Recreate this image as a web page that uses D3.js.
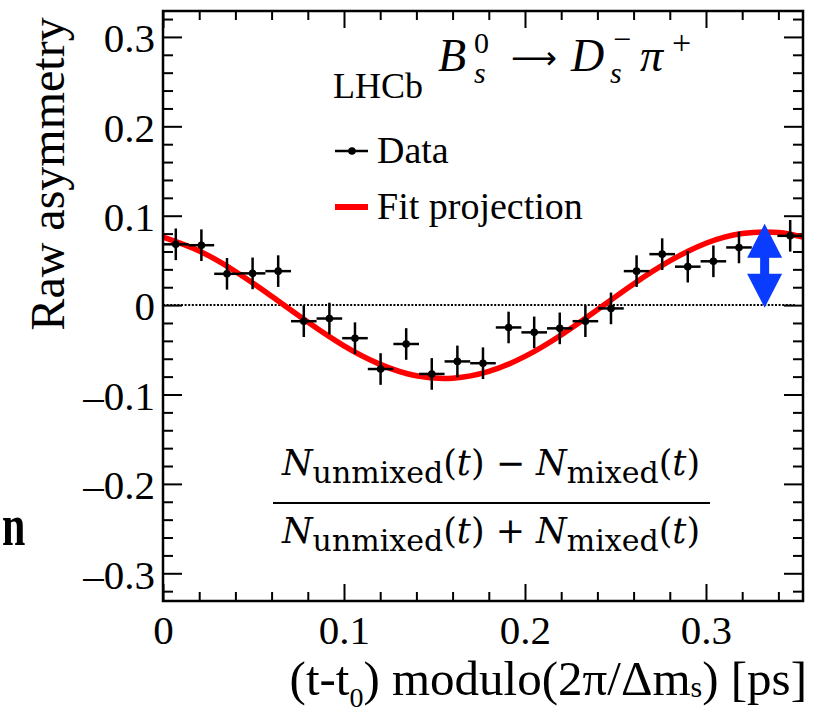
<!DOCTYPE html>
<html>
<head>
<meta charset="utf-8">
<script src="https://cdn.jsdelivr.net/npm/d3@7"></script>
<style>
  body { margin: 0; background: #fff; }
  svg { display: block; }
</style>
</head>
<body>
<svg width="832" height="713" font-family="Liberation Serif, Times New Roman, serif"></svg>
<script>
// bin centres of (t-t0) modulo(2pi/dms) [ps], 25 bins
const binCenters = [0.00707, 0.02121, 0.03536, 0.0495, 0.06364, 0.07779, 0.09193, 0.10607,
  0.12022, 0.13436, 0.1485, 0.16265, 0.17679, 0.19094, 0.20508, 0.21922, 0.23337,
  0.24751, 0.26165, 0.2758, 0.28994, 0.30409, 0.31823, 0.33237, 0.34652];
const binHalf = 0.00707;
// raw asymmetry
const asym = [0.068, 0.067, 0.035, 0.0355, 0.038, -0.018, -0.015, -0.037, -0.0715, -0.0435,
  -0.077, -0.063, -0.065, -0.025, -0.0305, -0.026, -0.018, -0.0037, 0.038, 0.057,
  0.043, 0.049, 0.0645, 0.055, 0.0775];
const asymErr = [0.0177, 0.0177, 0.0177, 0.0177, 0.0177, 0.0177, 0.0177, 0.0177, 0.0177, 0.0177,
  0.0177, 0.0177, 0.0177, 0.0177, 0.0177, 0.0177, 0.0177, 0.0177, 0.0177, 0.0177,
  0.0177, 0.0177, 0.0177, 0.0177, 0.0177];

// fit projection
const fitT = [0, 0.02, 0.04, 0.06, 0.08, 0.10, 0.12, 0.14, 0.16, 0.18, 0.20, 0.22, 0.24,
  0.26, 0.28, 0.30, 0.32, 0.34, 0.3536];
const fitA = [0.0761, 0.0606, 0.0376, 0.0099, -0.019, -0.0456, -0.0663, -0.0791, -0.0817,
  -0.0742, -0.0574, -0.0334, -0.0052, 0.0236, 0.0494, 0.0692, 0.0801, 0.0812, 0.076];

const xMajor = [0, 0.1, 0.2, 0.3];
const xMinor = [0.02, 0.04, 0.06, 0.08, 0.12, 0.14, 0.16, 0.18, 0.22, 0.24, 0.26, 0.28, 0.32, 0.34];
const yMajor = [-0.3, -0.2, -0.1, 0, 0.1, 0.2, 0.3];
const yMinor = [-0.32, -0.28, -0.26, -0.24, -0.22, -0.18, -0.16, -0.14, -0.12, -0.08, -0.06,
  -0.04, -0.02, 0.02, 0.04, 0.06, 0.08, 0.12, 0.14, 0.16, 0.18, 0.22, 0.24, 0.26, 0.28, 0.32];

// amplitude arrow
const arrowX = 0.3324;
const arrowY = [-0.003, 0.091];

const svg = d3.select("svg");
const padL = 163, padR = 803, padT = 11, padB = 601;
const serif = "Liberation Serif, Times New Roman, serif";

const x = d3.scaleLinear().domain([0, 0.3536]).range([padL, padR]);
const y = d3.scaleLinear().domain([-0.331, 0.329]).range([padB, padT]);

svg.append("clipPath").attr("id", "frame")
  .append("rect").attr("x", padL).attr("y", padT)
  .attr("width", padR - padL).attr("height", padB - padT);

// ticks on all four sides, pointing inwards
const fmtY = d => d === 0 ? "0" : (d < 0 ? "\u2013" : "") + Math.abs(d).toFixed(1);
const fmtX = d => d === 0 ? "0" : d.toFixed(1);

function axisGroup(axis, tx, ty) {
  let g = svg.append("g").attr("transform", `translate(${tx},${ty})`).call(axis);
  g.select(".domain").remove();
  g.selectAll("line").attr("stroke", "#000").attr("stroke-width", 2);
  return g;
}

let gx = axisGroup(d3.axisBottom(x).tickValues(xMajor).tickSize(-17).tickPadding(14).tickFormat(fmtX), 0, padB);
gx.attr("font-family", serif).attr("font-size", 41);
gx.selectAll("text").attr("fill", "#000");
axisGroup(d3.axisBottom(x).tickValues(xMinor).tickSize(-9).tickFormat(""), 0, padB);
axisGroup(d3.axisTop(x).tickValues(xMajor).tickSize(-17).tickFormat(""), 0, padT);
axisGroup(d3.axisTop(x).tickValues(xMinor).tickSize(-9).tickFormat(""), 0, padT);

let gy = axisGroup(d3.axisLeft(y).tickValues(yMajor).tickSize(-19).tickPadding(8).tickFormat(fmtY), padL, 0);
gy.attr("font-family", serif).attr("font-size", 41);
gy.selectAll("text").attr("fill", "#000").attr("dy", "0.36em");
axisGroup(d3.axisLeft(y).tickValues(yMinor).tickSize(-10).tickFormat(""), padL, 0);
axisGroup(d3.axisRight(y).tickValues(yMajor).tickSize(-19).tickFormat(""), padR, 0);
axisGroup(d3.axisRight(y).tickValues(yMinor).tickSize(-10).tickFormat(""), padR, 0);

// zero line
svg.append("line")
  .attr("x1", x(0)).attr("x2", x(0.349))
  .attr("y1", y(0)).attr("y2", y(0))
  .attr("stroke", "#000").attr("stroke-width", 2)
  .attr("stroke-dasharray", "2,1.6");

// fit curve
const fitPts = fitT.map((t, i) => [t, fitA[i]]);
svg.append("path")
  .datum(fitPts)
  .attr("clip-path", "url(#frame)")
  .attr("fill", "none")
  .attr("stroke", "#ff0000")
  .attr("stroke-width", 5.5)
  .attr("d", d3.line().x(d => x(d[0])).y(d => y(d[1])).curve(d3.curveNatural));

// data points with error bars
const pts = binCenters.map((c, i) => ({c: c, v: asym[i], e: asymErr[i]}));
let pg = svg.append("g").selectAll("g").data(pts).enter().append("g");
pg.append("line")
  .attr("x1", d => x(d.c - binHalf)).attr("x2", d => x(d.c + binHalf))
  .attr("y1", d => y(d.v)).attr("y2", d => y(d.v))
  .attr("stroke", "#000").attr("stroke-width", 2.5);
pg.append("line")
  .attr("x1", d => x(d.c)).attr("x2", d => x(d.c))
  .attr("y1", d => y(d.v - d.e)).attr("y2", d => y(d.v + d.e))
  .attr("stroke", "#000").attr("stroke-width", 2.5);
pg.append("circle")
  .attr("cx", d => x(d.c)).attr("cy", d => y(d.v)).attr("r", 3.8)
  .attr("fill", "#000");

// double arrow
const ax = x(arrowX), aLo = y(arrowY[0]), aHi = y(arrowY[1]);
const hw = 17.5, hl = 34, sw = 4.5;
svg.append("path")
  .attr("fill", "#0a3cff")
  .attr("d", `M${ax},${aHi} L${ax + hw},${aHi + hl} L${ax + sw},${aHi + hl} L${ax + sw},${aLo - hl}
    L${ax + hw},${aLo - hl} L${ax},${aLo} L${ax - hw},${aLo - hl} L${ax - sw},${aLo - hl}
    L${ax - sw},${aHi + hl} L${ax - hw},${aHi + hl} Z`);

// frame
svg.append("rect")
  .attr("x", padL).attr("y", padT)
  .attr("width", padR - padL).attr("height", padB - padT)
  .attr("fill", "none").attr("stroke", "#000").attr("stroke-width", 2.5);

// legend
svg.append("line").attr("x1", 335).attr("x2", 368).attr("y1", 151).attr("y2", 151)
  .attr("stroke", "#000").attr("stroke-width", 2.5);
svg.append("circle").attr("cx", 352).attr("cy", 151).attr("r", 3.8).attr("fill", "#000");
svg.append("text").attr("x", 377).attr("y", 163).attr("font-size", 38).text("Data");
svg.append("line").attr("x1", 335).attr("x2", 368).attr("y1", 207).attr("y2", 207)
  .attr("stroke", "#ff0000").attr("stroke-width", 6);
svg.append("text").attr("x", 377).attr("y", 219).attr("font-size", 38).text("Fit projection");

// labels
svg.append("text").attr("x", 333).attr("y", 98).attr("font-size", 36).text("LHCb");

let dec = svg.append("g").attr("font-style", "italic");
dec.append("text").attr("x", 438).attr("y", 71).attr("font-size", 46).text("B");
dec.append("text").attr("x", 474).attr("y", 53).attr("font-size", 30).attr("font-style", "normal").text("0");
dec.append("text").attr("x", 474).attr("y", 83).attr("font-size", 30).text("s");
dec.append("text").attr("x", 511).attr("y", 69).attr("font-size", 32).attr("font-style", "normal")
  .attr("font-family", "DejaVu Sans").text("\u27f6");
dec.append("text").attr("x", 571).attr("y", 71).attr("font-size", 46).text("D");
dec.append("text").attr("x", 613).attr("y", 50).attr("font-size", 32).attr("font-style", "normal").text("\u2212");
dec.append("text").attr("x", 610).attr("y", 83).attr("font-size", 30).text("s");
dec.append("text").attr("x", 640).attr("y", 71).attr("font-size", 46).text("\u03c0");
dec.append("text").attr("x", 672).attr("y", 54).attr("font-size", 34).attr("font-style", "normal").text("+");

// formula
function fracLine(yb, sign) {
  let t = svg.append("text").attr("x", 491).attr("y", yb).attr("text-anchor", "middle")
    .attr("font-size", 35).attr("font-family", "DejaVu Serif");
  t.append("tspan").attr("font-style", "italic").text("N");
  t.append("tspan").attr("font-size", 30).attr("dy", 8).text("unmixed");
  t.append("tspan").attr("dy", -8).text("(");
  t.append("tspan").attr("font-style", "italic").text("t");
  t.append("tspan").text(") " + sign + " ");
  t.append("tspan").attr("font-style", "italic").text("N");
  t.append("tspan").attr("font-size", 30).attr("dy", 8).text("mixed");
  t.append("tspan").attr("dy", -8).text("(");
  t.append("tspan").attr("font-style", "italic").text("t");
  t.append("tspan").text(")");
}
fracLine(475, "\u2212");
svg.append("line").attr("x1", 273).attr("x2", 710).attr("y1", 503).attr("y2", 503)
  .attr("stroke", "#000").attr("stroke-width", 2);
fracLine(543, "+");

// axis titles
svg.append("text")
  .attr("transform", "translate(64,174) rotate(-90)")
  .attr("text-anchor", "middle").attr("font-size", 48)
  .text("Raw asymmetry");

let xt = svg.append("text").attr("x", 807).attr("y", 695).attr("text-anchor", "end").attr("font-size", 49);
xt.append("tspan").text("(t-t");
xt.append("tspan").attr("font-size", 28).attr("dy", 12).text("0");
xt.append("tspan").attr("dy", -12).text(") modulo(2\u03c0/\u0394m");
xt.append("tspan").attr("font-size", 30).attr("dy", 2).text("s");
xt.append("tspan").attr("dy", -2).text(") [ps]");

svg.append("text").attr("transform", "translate(2,545) scale(0.7,1)")
  .attr("font-size", 60).attr("font-weight", "bold").text("n");
</script>
</body>
</html>
